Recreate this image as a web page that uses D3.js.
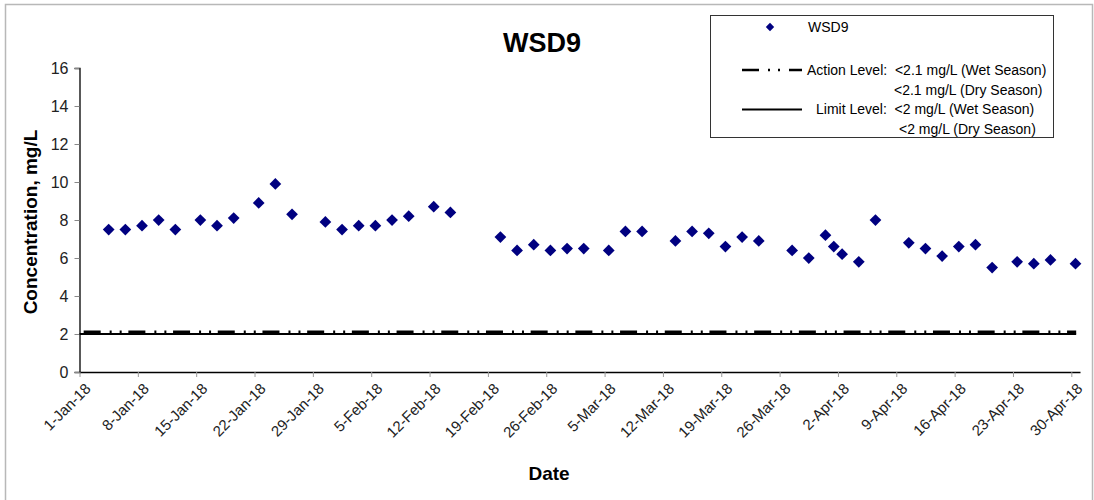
<!DOCTYPE html>
<html>
<head>
<meta charset="utf-8">
<script src="https://cdn.jsdelivr.net/npm/d3@7"></script>
<style>
  body { margin: 0; background: #fff; }
  text { font-family: "Liberation Sans", Arial, sans-serif; }
</style>
</head>
<body>
<div id="chart"></div>
<script>
// sample dates (each plotted at noon) and WSD9 concentrations, mg/L
var sampleDates = [
  "2018-01-04", "2018-01-06", "2018-01-08", "2018-01-10", "2018-01-12",
  "2018-01-15", "2018-01-17", "2018-01-19", "2018-01-22", "2018-01-24",
  "2018-01-26", "2018-01-30", "2018-02-01", "2018-02-03", "2018-02-05",
  "2018-02-07", "2018-02-09", "2018-02-12", "2018-02-14", "2018-02-20",
  "2018-02-22", "2018-02-24", "2018-02-26", "2018-02-28", "2018-03-02",
  "2018-03-05", "2018-03-07", "2018-03-09", "2018-03-13", "2018-03-15",
  "2018-03-17", "2018-03-19", "2018-03-21", "2018-03-23", "2018-03-27",
  "2018-03-29", "2018-03-31", "2018-04-01", "2018-04-02", "2018-04-04",
  "2018-04-06", "2018-04-10", "2018-04-12", "2018-04-14", "2018-04-16",
  "2018-04-18", "2018-04-20", "2018-04-23", "2018-04-25", "2018-04-27",
  "2018-04-30"
];
var wsd9 = [
  7.5, 7.5, 7.7, 8.0, 7.5,
  8.0, 7.7, 8.1, 8.9, 9.9,
  8.3, 7.9, 7.5, 7.7, 7.7,
  8.0, 8.2, 8.7, 8.4, 7.1,
  6.4, 6.7, 6.4, 6.5, 6.5,
  6.4, 7.4, 7.4, 6.9, 7.4,
  7.3, 6.6, 7.1, 6.9, 6.4,
  6.0, 7.2, 6.6, 6.2, 5.8,
  8.0, 6.8, 6.5, 6.1, 6.6,
  6.7, 5.5, 5.8, 5.7, 5.9,
  5.7
];
var tickDates = [
  "2018-01-01", "2018-01-08", "2018-01-15", "2018-01-22", "2018-01-29",
  "2018-02-05", "2018-02-12", "2018-02-19", "2018-02-26", "2018-03-05",
  "2018-03-12", "2018-03-19", "2018-03-26", "2018-04-02", "2018-04-09",
  "2018-04-16", "2018-04-23", "2018-04-30"
];
var yTicks = [0, 2, 4, 6, 8, 10, 12, 14, 16];
var actionLevel = 2.1;
var limitLevel = 2;
var legendLines = [
  ["WSD9"],
  ["Action Level:  <2.1 mg/L (Wet Season)", "<2.1 mg/L (Dry Season)"],
  ["Limit Level:  <2 mg/L (Wet Season)", "<2 mg/L (Dry Season)"]
];

var W = 1094, H = 500;
var parse = d3.timeParse("%Y-%m-%d");
var fmt = d3.timeFormat("%-d-%b-%y");

var svg = d3.select("#chart").append("svg")
    .attr("width", W).attr("height", H);

// outer frame
svg.append("rect")
    .attr("x", 5.5).attr("y", 4.5)
    .attr("width", 1087).attr("height", 510)
    .attr("fill", "none").attr("stroke", "#b8b8b8").attr("stroke-width", 1.5);

var xScale = d3.scaleTime()
    .domain([parse("2018-01-01"), d3.timeHour.offset(parse("2018-04-30"), 25)])
    .range([79.5, 1080]);
var yScale = d3.scaleLinear().domain([0, 16]).range([372, 68]);

// title
svg.append("text").attr("x", 542).attr("y", 52)
    .attr("text-anchor", "middle")
    .style("font-size", "27px").style("font-weight", "bold")
    .text("WSD9");

// y axis
var yAxis = d3.axisLeft(yScale).tickValues(yTicks).tickSize(5).tickPadding(6);
var gy = svg.append("g").attr("transform", "translate(79.5,0)").call(yAxis);
gy.select(".domain").attr("stroke", "#000").attr("stroke-width", 1.3);
gy.selectAll(".tick line").attr("stroke", "#888");
gy.selectAll(".tick text").style("font-size", "16px").attr("fill", "#222")
    .style("font-family", "Liberation Sans, Arial, sans-serif");

// x axis
var xAxis = d3.axisBottom(xScale)
    .tickValues(tickDates.map(parse))
    .tickFormat(fmt).tickSize(5).tickSizeOuter(0);
var gx = svg.append("g").attr("transform", "translate(0,372)").call(xAxis);
gx.select(".domain").attr("stroke", "#000").attr("stroke-width", 1.3);
gx.selectAll(".tick line").attr("stroke", "#999");
gx.selectAll(".tick text")
    .style("font-size", "15px").attr("fill", "#222")
    .style("font-family", "Liberation Sans, Arial, sans-serif")
    .attr("text-anchor", "end")
    .attr("dx", "0").attr("dy", "0")
    .attr("transform", "translate(6,12) rotate(-45)");

// axis titles
svg.append("text").attr("x", 549).attr("y", 480)
    .attr("text-anchor", "middle")
    .style("font-size", "19px").style("font-weight", "bold")
    .text("Date");
svg.append("text")
    .attr("transform", "translate(37,222) rotate(-90)")
    .attr("text-anchor", "middle")
    .style("font-size", "19px").style("font-weight", "bold")
    .text("Concentration, mg/L");

// limit level (solid) and action level (dash-dot-dot)
svg.append("line")
    .attr("x1", xScale(parse("2018-01-01"))).attr("x2", xScale(d3.timeHour.offset(parse("2018-04-30"), 14)))
    .attr("y1", yScale(limitLevel)).attr("y2", yScale(limitLevel))
    .attr("stroke", "#000").attr("stroke-width", 2);
svg.append("line")
    .attr("x1", xScale(d3.timeHour.offset(parse("2018-01-01"), 12)))
    .attr("x2", xScale(d3.timeHour.offset(parse("2018-04-30"), 14)))
    .attr("y1", yScale(actionLevel)).attr("y2", yScale(actionLevel))
    .attr("stroke", "#000").attr("stroke-width", 3)
    .attr("stroke-dasharray", "17,9,2,8,2,6.7");

// data points
var diamond = d3.symbol().type(d3.symbolDiamond2).size(88);
svg.append("g").selectAll("path")
    .data(sampleDates.map(function (d, i) { return { date: d3.timeHour.offset(parse(d), 12), v: wsd9[i] }; }))
    .enter().append("path")
    .attr("d", diamond)
    .attr("transform", function (d) {
        return "translate(" + xScale(d.date) + "," + yScale(d.v) + ")";
    })
    .attr("fill", "#000080");

// legend
var lg = svg.append("g");
lg.append("rect").attr("x", 710.5).attr("y", 15.5).attr("width", 343).attr("height", 122)
    .attr("fill", "#fff").attr("stroke", "#333").attr("stroke-width", 1);
lg.append("path").attr("d", d3.symbol().type(d3.symbolDiamond2).size(45))
    .attr("transform", "translate(770,27)").attr("fill", "#000080");
lg.append("text").attr("x", 808).attr("y", 32).style("font-size", "14px").text(legendLines[0][0]);

lg.append("line").attr("x1", 742).attr("x2", 802).attr("y1", 70).attr("y2", 70)
    .attr("stroke", "#000").attr("stroke-width", 2.5)
    .attr("stroke-dasharray", "17,9,2,8,2,9");
lg.append("text").attr("x", 807).attr("y", 75).style("font-size", "14px").style("white-space", "pre")
    .attr("xml:space", "preserve").text(legendLines[1][0]);
lg.append("text").attr("x", 894).attr("y", 95).style("font-size", "14px").text(legendLines[1][1]);

lg.append("line").attr("x1", 742).attr("x2", 802).attr("y1", 109.5).attr("y2", 109.5)
    .attr("stroke", "#000").attr("stroke-width", 2);
lg.append("text").attr("x", 816).attr("y", 114).style("font-size", "14px").style("white-space", "pre")
    .attr("xml:space", "preserve").text(legendLines[2][0]);
lg.append("text").attr("x", 899).attr("y", 134).style("font-size", "14px").text(legendLines[2][1]);
</script>
</body>
</html>
